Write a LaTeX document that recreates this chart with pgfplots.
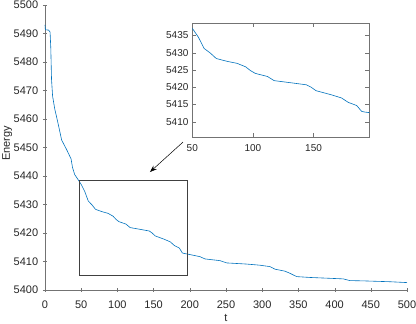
\documentclass[border=0pt]{standalone}
\usepackage{fontspec}
\setmainfont{Liberation Sans}
\usepackage{pgfplots}
\pgfplotsset{compat=1.18}
\usetikzlibrary{arrows.meta}
\definecolor{mblue}{rgb}{0,0.447,0.741}
\definecolor{axgray}{rgb}{0.45,0.45,0.45}
\definecolor{txt}{rgb}{0.15,0.15,0.15}

\pgfplotstableread{
t E
0 5493.0
0.5 5491.3
5 5491.2
7 5490.5
8 5485
9 5474
10.5 5468
13.5 5463.5
18 5458.5
23 5452.6
30 5449.2
36 5446
38 5443
41 5440.5
45 5439
48 5437.8
50.3 5436.9
55 5434.5
59.8 5431.2
64.8 5429.9
69.8 5428.3
78.6 5427.5
87 5426.9
94 5425.9
98 5424.8
102 5424.0
112 5423.1
117.5 5421.9
131 5421.3
144 5420.7
148 5420.0
152 5419.0
164.7 5417.8
173 5416.9
178.7 5415.6
185.6 5414.7
189.7 5413.0
192.5 5412.8
197 5412.6
214 5411.7
221 5410.9
241.7 5410.3
251 5409.5
278.5 5409.1
297 5408.7
310.8 5408.2
317.7 5407.3
331.5 5406.6
338 5405.9
347.6 5404.7
366 5404.4
393.6 5404.1
412 5403.9
421 5403.3
439.6 5403.2
476.5 5402.9
500 5402.6
}\energy

\begin{document}
\fontsize{11}{13}\selectfont
\begin{tikzpicture}
\pgfplotsset{
  every axis/.append style={
    scale only axis,
    axis line style={axgray},
    tick style={axgray, major tick length=4pt},
    tick align=inside,
    ticklabel style={txt, font=\fontsize{11}{13}\selectfont},
    label style={txt, font=\fontsize{11}{13}\selectfont},
    /pgf/number format/assume math mode=true,
    /pgf/number format/1000 sep={},
  }
}
\begin{axis}[
  width=362pt, height=285pt,
  xmin=0, xmax=500, ymin=5400, ymax=5500,
  axis lines=left,
  axis line style={-},
  xtick={0,50,...,500},
  ytick={5400,5410,...,5500},
  xticklabel style={anchor=base, yshift=-17pt},
  yticklabel style={xshift=-1pt},
  xlabel={t}, ylabel={Energy},
  xlabel style={at={(axis description cs:0.5,0)}, anchor=base, yshift=-32pt},
  ylabel style={at={(axis description cs:0,0.5)}, anchor=south, yshift=29pt, xshift=4pt},
  clip=false,
]
\addplot[mblue, line width=0.6pt] table[x=t, y=E] {\energy};
\draw[black!75, line width=0.8pt] (axis cs:48,5405) rectangle (axis cs:196,5438.5);
\draw[black, line width=0.5pt, -{Stealth[length=7pt, width=5pt]}] (axis cs:190.6,5451.9) -- (axis cs:145,5441.4);
\end{axis}
\begin{axis}[
  at={(147.3pt,152.7pt)}, anchor=south west,
  width=177pt, height=114pt,
  xmin=50, xmax=196, ymin=5405.5, ymax=5438.5,
  xtick={50,100,150},
  ytick={5410,5415,...,5435},
  axis background/.style={fill=white},
  ticklabel style={font=\fontsize{10}{12}\selectfont},
  xticklabel style={anchor=base, yshift=-14pt},
]
\addplot[mblue, line width=0.6pt] table[x=t, y=E] {\energy};
\end{axis}
\pgfresetboundingbox
\path (-45pt,-34pt) rectangle (371pt,290pt);
\end{tikzpicture}
\end{document}
